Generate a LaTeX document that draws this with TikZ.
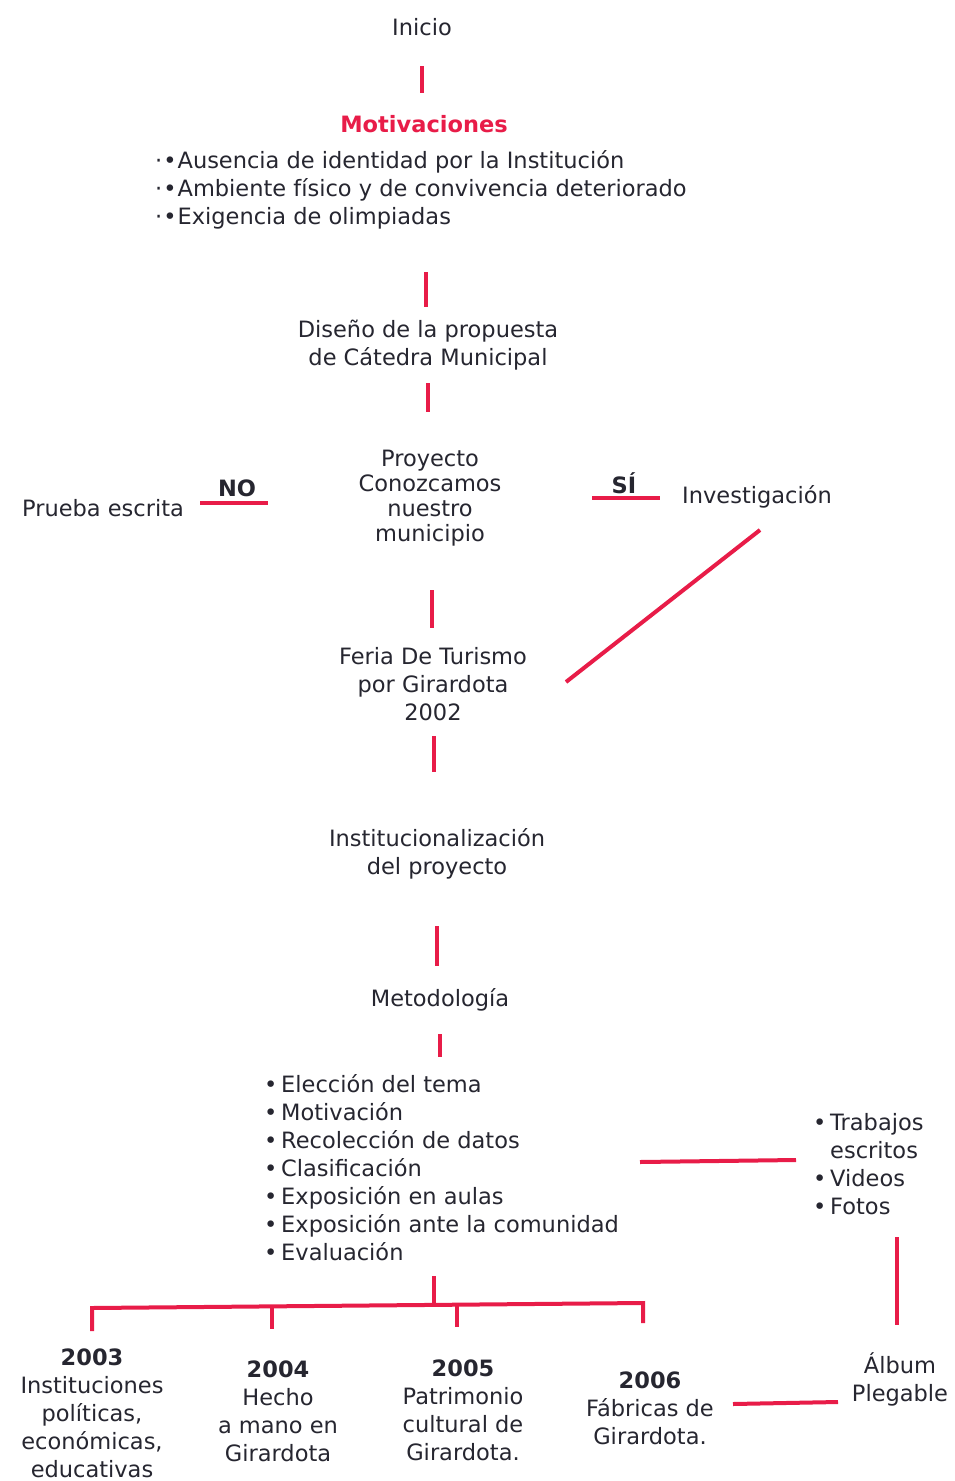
\documentclass[tikz,border=0pt]{standalone}
\usepackage{fontspec}
\setmainfont{DejaVu Sans}
\definecolor{ink}{RGB}{38,38,48}
\definecolor{accent}{RGB}{232,28,72}
\tikzset{
  txt/.style={font=\fontsize{22.5}{28}\selectfont, text=ink, inner sep=0pt, align=center},
  tight/.style={font=\fontsize{22.5}{25}\selectfont},
  boldtxt/.style={txt, font=\bfseries\fontsize{22.5}{28}\selectfont},
  listbox/.style={txt, align=left, anchor=west},
  link/.style={draw=accent, line width=4pt},
}
\begin{document}
\begin{tikzpicture}[x=1pt,y=-1pt]
  \useasboundingbox[fill=white] (0,0) rectangle (954,1481);

  % main column
  \node[txt] (inicio) at (422,27) {Inicio};
  \node[boldtxt, text=accent] (motiv) at (424,124) {Motivaciones};
  \node[listbox] (motivlist) at (155,190) {·\kern1pt•\kern1pt Ausencia de identidad por la Institución\\
    ·\kern1pt•\kern1pt Ambiente físico y de convivencia deteriorado\\
    ·\kern1pt•\kern1pt Exigencia de olimpiadas};
  \node[txt] (diseno) at (428,345) {Diseño de la propuesta\\de Cátedra Municipal};
  \node[txt, tight] (proyecto) at (430,498) {Proyecto\\Conozcamos\\nuestro\\municipio};
  \node[txt] (prueba) at (103,508) {Prueba escrita};
  \node[boldtxt] (no) at (237,488) {NO};
  \node[boldtxt] (si) at (624,483) {SÍ};
  \node[txt] (invest) at (757,497) {Investigación};
  \node[txt] (feria) at (433,684) {Feria De Turismo\\por Girardota\\2002};
  \node[txt] (instit) at (437,854) {Institucionalización\\del proyecto};
  \node[txt] (metod) at (440,1000) {Metodología};
  \node[listbox] (pasos) at (264,1168) {•\,Elección del tema\\
    •\,Motivación\\
    •\,Recolección de datos\\
    •\,Clasificación\\
    •\,Exposición en aulas\\
    •\,Exposición ante la comunidad\\
    •\,Evaluación};
  \node[listbox] (productos) at (813,1164) {•\,Trabajos\\
    \phantom{•\,}escritos\\
    •\,Videos\\
    •\,Fotos};
  \node[txt] (album) at (900,1379) {Álbum\\Plegable};

  % yearly themes
  \node[txt] (y2003) at (92,1413) {\textbf{2003}\\Instituciones\\políticas,\\económicas,\\educativas};
  \node[txt] (y2004) at (278,1411) {\textbf{2004}\\Hecho\\a mano en\\Girardota};
  \node[txt] (y2005) at (463,1410) {\textbf{2005}\\Patrimonio\\cultural de\\Girardota.};
  \node[txt] (y2006) at (650,1408) {\textbf{2006}\\Fábricas de\\Girardota.};

  % connector end points
  \coordinate (c1a) at (422,66);   \coordinate (c1b) at (422,93);
  \coordinate (c2a) at (426,272);  \coordinate (c2b) at (426,307);
  \coordinate (c3a) at (428,383);  \coordinate (c3b) at (428,412);
  \coordinate (noa) at (200,503);  \coordinate (nob) at (268,503);
  \coordinate (sia) at (592,498);  \coordinate (sib) at (660,498);
  \coordinate (da) at (760,530);   \coordinate (db) at (566,682);
  \coordinate (c4a) at (432,590);  \coordinate (c4b) at (432,628);
  \coordinate (c5a) at (434,736);  \coordinate (c5b) at (434,772);
  \coordinate (c6a) at (437,926);  \coordinate (c6b) at (437,966);
  \coordinate (c7a) at (440,1034); \coordinate (c7b) at (440,1057);
  \coordinate (pa) at (640,1162);  \coordinate (pb) at (796,1160);
  \coordinate (ala) at (897,1237); \coordinate (alb) at (897,1325);
  \coordinate (fa) at (733,1404);  \coordinate (fb) at (838,1402);
  \coordinate (ta) at (434,1276);  \coordinate (tb) at (434,1305);
  \coordinate (b03) at (92,1308);  \coordinate (e03) at (92,1331);
  \coordinate (b04) at (272,1307); \coordinate (e04) at (272,1329);
  \coordinate (b05) at (457,1305); \coordinate (e05) at (457,1327);
  \coordinate (b06) at (643,1303); \coordinate (e06) at (643,1323);

  % connectors
  \draw[link] (c1a) -- (c1b);
  \draw[link] (c2a) -- (c2b);
  \draw[link] (c3a) -- (c3b);
  \draw[link] (noa) -- (nob);
  \draw[link] (sia) -- (sib);
  \draw[link] (da) -- (db);
  \draw[link] (c4a) -- (c4b);
  \draw[link] (c5a) -- (c5b);
  \draw[link] (c6a) -- (c6b);
  \draw[link] (c7a) -- (c7b);
  \draw[link] (pa) -- (pb);
  \draw[link] (ala) -- (alb);
  \draw[link] (fa) -- (fb);
  \draw[link] (ta) -- (tb);
  \draw[link] (e03) -- (b03) -- (b06) -- (e06);
  \draw[link] (b04) -- (e04);
  \draw[link] (b05) -- (e05);
\end{tikzpicture}
\end{document}
